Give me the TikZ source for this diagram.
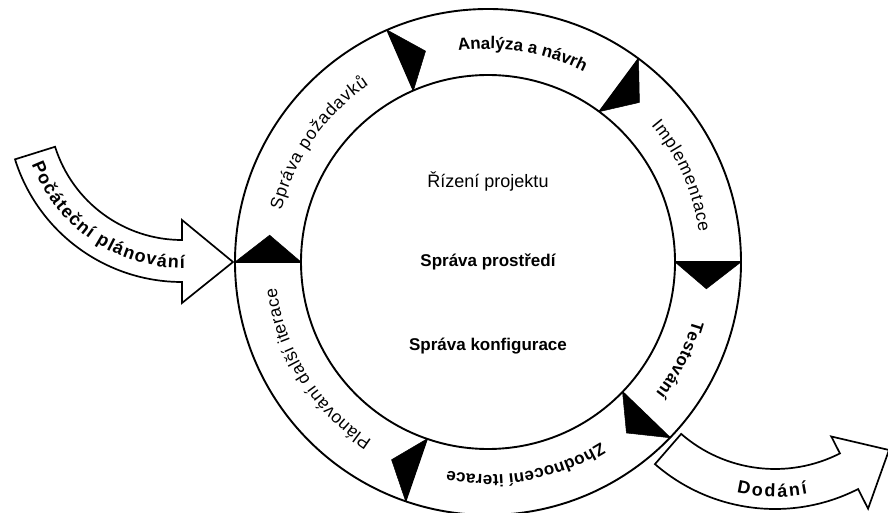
\documentclass[tikz,border=0pt]{standalone}
\usepackage{fontspec}
\setmainfont{Liberation Sans}
\usetikzlibrary{decorations.text}
\newcommand\rfR{\fontsize{17.5}{20}\selectfont}
\newcommand\rfB{\fontsize{17}{20}\selectfont\bfseries}
\newcommand\afB{\fontsize{18}{21}\selectfont\bfseries}
\begin{document}
\begin{tikzpicture}[x=1pt,y=1pt,
  ringline/.style={line width=1.9pt},
  divline/.style={line width=1.5pt},
  tri/.style={fill=black, draw=black, line width=0.5pt, line join=round},
  bigarrow/.style={draw=black, fill=white, line width=1.7pt, line join=miter},
  ctrtext/.style={font=\fontsize{18}{21}\selectfont, anchor=base, inner sep=0pt},
  ctrbold/.style={font=\fontsize{17}{20}\selectfont\bfseries, anchor=base, inner sep=0pt},
  ringtext/.style={decorate, decoration={text along path, text align=fit to path, text={#1}}}
]
\useasboundingbox (0,0) rectangle (888,512);
\fill[white] (0,0) rectangle (888,512);

% ring
\begin{scope}[shift={(488,250)}]
  \coordinate (c) at (0,0);
  \draw[ringline] (c) circle[radius=253];
  \draw[ringline] (c) circle[radius=187];
  \foreach \a in {180,113.5,53.5,0,-44,-109} {
    \draw[divline] (\a:187) -- (\a:253);
    \fill[tri] (\a:187) -- (\a:253) -- ({\a-7}:220) -- cycle;
  }
  \path[ringtext={|\rfR|Správa požadavků}] (166:213) arc[start angle=166, end angle=124, radius=213];
  \path[ringtext={|\rfB|Analýza a návrh}] (98:213) arc[start angle=98, end angle=64, radius=213];
  \path[ringtext={|\rfR|Implementace}] (40:213) arc[start angle=40, end angle=8, radius=213];
  \path[ringtext={|\rfB|Testování}] (-16:213) arc[start angle=-16, end angle=-38, radius=213];
  \path[ringtext={|\rfB|Zhodnocení iterace}] (-58:213) arc[start angle=-58, end angle=-101, radius=213];
  \path[ringtext={|\rfR|Plánování další iterace}] (237:213) arc[start angle=237, end angle=187, radius=213];
\end{scope}

% Počáteční plánování arrow
\begin{scope}[shift={(182,405)}]
  \coordinate (pc) at (0,0);
  \draw[bigarrow] (197.4:175) -- (197.4:133) arc[start angle=197.4, end angle=270, radius=133]
    -- (270:113) -- (51,-155) -- (270:196) -- (270:175)
    arc[start angle=270, end angle=197.4, radius=175] -- cycle;
  \path[ringtext={|\afB|Počáteční plánování}] (201:161) arc[start angle=201, end angle=271, radius=161];
\end{scope}

% Dodání arrow
\begin{scope}[shift={(775,186)}]
  \coordinate (dc) at (0,0);
  \draw[bigarrow] (229:183) -- (229:143) arc[start angle=229, end angle=297, radius=143]
    -- (297:124) -- (114,-124) -- (297:205) -- (297:183)
    arc[start angle=297, end angle=229, radius=183] -- cycle;
  \path[ringtext={|\afB|Dodání}] (257:171) arc[start angle=257, end angle=281, radius=171];
\end{scope}

% centre texts
\node[ctrtext] (rp) at (488,324) {Řízení projektu};
\node[ctrbold] (sp) at (488,246) {Správa prostředí};
\node[ctrbold] (sk) at (488,162) {Správa konfigurace};
\end{tikzpicture}
\end{document}
